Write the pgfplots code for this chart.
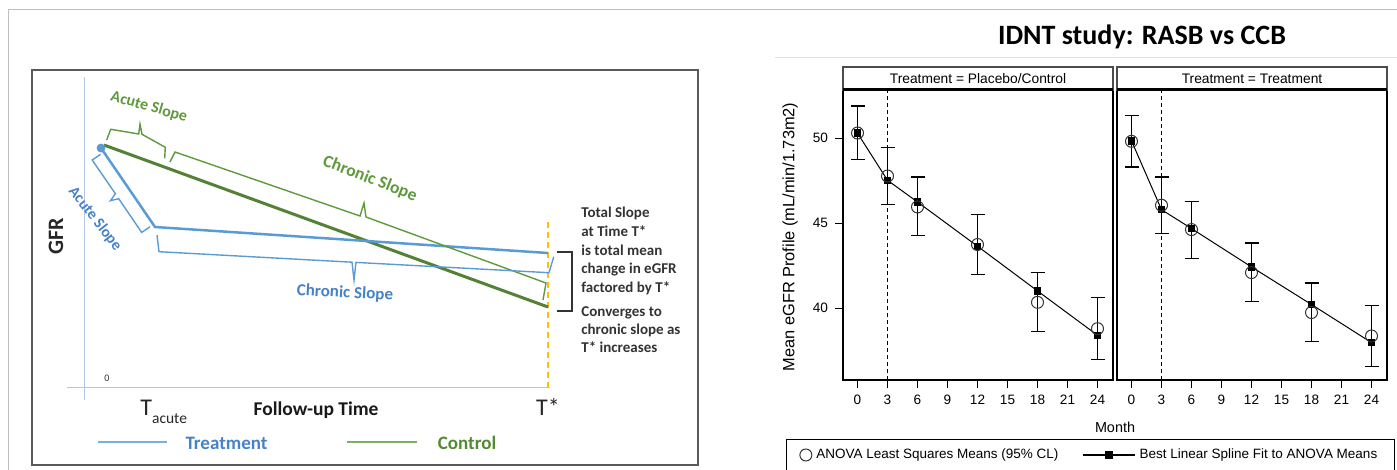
\documentclass[border=0pt]{standalone}
\usepackage{pgfplots}
\pgfplotsset{compat=1.18}
\usepackage{fontspec}
\setmainfont{Carlito}
\newfontfamily\arialf{Liberation Sans}
\definecolor{gline}{HTML}{548235}
\definecolor{gtext}{HTML}{5E9A3A}
\definecolor{gdark}{HTML}{548A34}
\definecolor{bline}{HTML}{5B9BD5}
\definecolor{btext}{HTML}{4682C8}
\definecolor{gold}{HTML}{FFC000}
\definecolor{axl}{HTML}{B0C8E8}
\definecolor{framec}{HTML}{5A5A5A}
\pgfplotsset{facet/.style={anchor=south west, scale only axis, width=135pt, height=145pt,
  xmin=-1.45, xmax=25.55, ymin=35.78, ymax=52.84, xtick={0,3,...,24},
  tick align=outside, xtick pos=bottom, ytick pos=left, major tick length=4pt,
  tick style={black, line width=0.6pt}, axis line style={black, line width=0.9pt},
  ticklabel style={font=\arialf\fontsize{6.8pt}{8pt}\selectfont},
  /pgf/number format/assume math mode=true, clip=false}}
\begin{document}
\begin{tikzpicture}
\path[use as bounding box] (0pt,0pt) rectangle (698.5pt,-235pt);
\draw[black!25, line width=0.5pt] (4pt,-235pt) -- (4pt,-5pt) -- (698.5pt,-5pt);
\draw[black!12, line width=0.5pt] (387.5pt,-29pt) -- (698.5pt,-29pt);

% ---------------- left schematic ----------------
\begin{axis}[at={(16pt,-232.5pt)}, anchor=south west, scale only axis, width=333pt, height=197.5pt,
  xmin=32, xmax=698, ymin=70, ymax=465, y dir=reverse, xtick=\empty, ytick=\empty,
  axis line style={framec, line width=0.8pt}, clip=false]
\addplot[axl, line width=0.5pt] coordinates {(84,77) (84,400)};
\addplot[axl, line width=0.5pt] coordinates {(67,387) (550,387)};
\addplot[gold, line width=1.2pt, dash pattern=on 3pt off 2pt] coordinates {(548,222) (548,387)};
\addplot[gline, line width=1.5pt] coordinates {(104,145) (548,307)};
\addplot[bline, line width=1.25pt] coordinates {(101,148) (155,227) (548,253)};
\addplot[bline, only marks, mark=*, mark size=2pt] coordinates {(101,148)};
% brackets
\addplot[gtext, line width=0.7pt] coordinates {(106.7,140) (110.7,129.3) (138.7,134) (140,124.3) (142,134.3) (165.3,147.3) (164.7,158.3)};
\addplot[gtext, line width=0.7pt] coordinates {(170,162) (175,152) (360,216) (364,203) (366,217) (546,283) (543,300)};
\addplot[bline, line width=0.7pt] coordinates {(100.5,154.4) (92.2,160.0) (115.4,193.7) (110.4,200.7) (118.7,198.7) (141.7,232.4) (150,226.8)};
\addplot[bline, line width=0.7pt] coordinates {(157,235) (159,251.7) (352,262.2) (354,280) (356,262.4) (549,272.7) (553.8,256.7)};
\addplot[black!80, line width=1pt] coordinates {(557,252) (572,252) (572,311) (557,311)};
% legend lines
\addplot[bline!80, line width=1pt] coordinates {(98,442) (167,442)};
\addplot[gtext!80, line width=1pt] coordinates {(347,442) (417,442)};
% texts
\node[gtext, font=\bfseries\fontsize{8pt}{9pt}\selectfont, rotate=-16, inner sep=0] at (149,107) {Acute Slope};
\node[gtext, font=\bfseries\fontsize{8.75pt}{10pt}\selectfont, rotate=-21, inner sep=0] at (370,179) {Chronic Slope};
\node[btext, font=\bfseries\fontsize{7.75pt}{9pt}\selectfont, rotate=-52, inner sep=0] at (95,219) {Acute Slope};
\node[btext, font=\bfseries\fontsize{8.5pt}{10pt}\selectfont, rotate=-3, inner sep=0] at (345,293) {Chronic Slope};
\node[black!85, font=\bfseries\fontsize{11pt}{12pt}\selectfont, rotate=90, inner sep=0] at (56,236) {GFR};
\node[black!80, font=\fontsize{5pt}{6pt}\selectfont, inner sep=0] at (107,378) {0};
\node[black!85, font=\fontsize{12pt}{14pt}\selectfont, anchor=base west, inner sep=0] at (140,415) {T\raisebox{-4pt}{\fontsize{7.75pt}{9pt}\selectfont acute}};
\node[black!90, font=\bfseries\fontsize{9.75pt}{11pt}\selectfont, anchor=base, inner sep=0] at (316,415) {Follow-up Time};
\node[black!85, font=\fontsize{12pt}{14pt}\selectfont, anchor=base, inner sep=0] at (548,415) {T*};
\node[btext, font=\bfseries\fontsize{9.5pt}{11pt}\selectfont, anchor=base, inner sep=0] at (226.5,449) {Treatment};
\node[gdark, font=\bfseries\fontsize{9.5pt}{11pt}\selectfont, anchor=base, inner sep=0] at (467,449) {Control};
\begin{scope}[every node/.style={black!80, font=\bfseries\fontsize{7.5pt}{9pt}\selectfont, anchor=base west, inner sep=0}]
\node at (581,217.5) {Total Slope};
\node at (581,236.5) {at Time T*};
\node at (581,255.5) {is total mean};
\node at (581,273.5) {change in eGFR};
\node at (581,292.5) {factored by T*};
\node at (581,316.5) {Converges to};
\node at (581,334.5) {chronic slope as};
\node at (581,352.5) {T* increases};
\end{scope}
\end{axis}

% ---------------- right panel: facet 1 ----------------
\begin{axis}[facet, at={(421.5pt,-190pt)}, ytick={40,45,50},
  legend columns=2, legend cell align=left,
  legend style={at={(axis description cs:0.916,-0.2586)}, anchor=center, draw=black, line width=0.7pt,
    font=\arialf\fontsize{6.75pt}{8pt}\selectfont, inner ysep=2.5pt, inner xsep=6.5pt,
    /tikz/every even column/.append style={column sep=10pt}}]
\addlegendimage{legend image code/.code={\draw[black!80, line width=0.5pt] (0.1cm,0cm) circle (3pt);}}
\addlegendentry{ANOVA Least Squares Means (95\% CL)}
\addlegendimage{legend image code/.code={\draw[black, line width=0.6pt] (0cm,0cm) -- (26pt,0cm); \fill[black] (11.4pt,-1.6pt) rectangle (14.6pt,1.6pt);}}
\addlegendentry{Best Linear Spline Fit to ANOVA Means}
\draw[black!70, line width=0.6pt] (rel axis cs:0,1) rectangle ([yshift=11.5pt]rel axis cs:1,1);
\draw[black, line width=1.5pt] (rel axis cs:0,1) -- (rel axis cs:1,1);
\node[font=\arialf\fontsize{6.9pt}{7pt}\selectfont, inner sep=0] at ([yshift=5.75pt]rel axis cs:0.5,1) {Treatment = Placebo/Control};
\addplot[black, line width=0.6pt, dash pattern=on 2pt off 1.5pt] coordinates {(3,35.78) (3,52.84)};
\addplot[black, line width=0.5pt, mark=square*, mark size=1.6pt] coordinates {(0,50.3) (3,47.53) (6,46.25) (12,43.65) (18,41.02) (24,38.41)};
\addplot[black!80, only marks, mark=o, mark size=3pt, mark options={line width=0.5pt},
  error bars/.cd, y dir=both, y explicit, error bar style={line width=0.6pt, black},
  error mark options={rotate=90, black, line width=0.6pt, mark size=3.5pt}]
  coordinates {(0,50.31) += (0,1.59) -= (0,1.55)
  (3,47.78) += (0,1.67) -= (0,1.68)
  (6,45.96) += (0,1.76) -= (0,1.66)
  (12,43.75) += (0,1.78) -= (0,1.75)
  (18,40.35) += (0,1.75) -= (0,1.70)
  (24,38.8) += (0,1.83) -= (0,1.82)};
\end{axis}

% ---------------- right panel: facet 2 ----------------
\begin{axis}[facet, at={(558.5pt,-190pt)}, ytick=\empty]
\draw[black!70, line width=0.6pt] (rel axis cs:0,1) rectangle ([yshift=11.5pt]rel axis cs:1,1);
\draw[black, line width=1.5pt] (rel axis cs:0,1) -- (rel axis cs:1,1);
\node[font=\arialf\fontsize{6.9pt}{7pt}\selectfont, inner sep=0] at ([yshift=5.75pt]rel axis cs:0.5,1) {Treatment = Treatment};
\addplot[black, line width=0.6pt, dash pattern=on 2pt off 1.5pt] coordinates {(3,35.78) (3,52.84)};
\addplot[black, line width=0.5pt, mark=square*, mark size=1.6pt] coordinates {(0,49.85) (3,45.8) (6,44.69) (12,42.43) (18,40.22) (24,37.98)};
\addplot[black!80, only marks, mark=o, mark size=3pt, mark options={line width=0.5pt},
  error bars/.cd, y dir=both, y explicit, error bar style={line width=0.6pt, black},
  error mark options={rotate=90, black, line width=0.6pt, mark size=3.5pt}]
  coordinates {(0,49.82) += (0,1.53) -= (0,1.51)
  (3,46.06) += (0,1.66) -= (0,1.67)
  (6,44.63) += (0,1.67) -= (0,1.71)
  (12,42.1) += (0,1.74) -= (0,1.69)
  (18,39.75) += (0,1.74) -= (0,1.69)
  (24,38.37) += (0,1.81) -= (0,1.78)};
\end{axis}

\node[font=\arialf\fontsize{8.2pt}{9pt}\selectfont, rotate=90, inner sep=0] at (395pt,-118.5pt) {Mean eGFR Profile (mL/min/1.73m2)};
\node[font=\arialf\fontsize{7.2pt}{8pt}\selectfont, inner sep=0] at (557.5pt,-213.5pt) {Month};
\node[font=\bfseries\fontsize{14pt}{16pt}\selectfont, inner sep=0] at (571pt,-18.5pt) {IDNT study: RASB vs CCB};
\end{tikzpicture}
\end{document}
